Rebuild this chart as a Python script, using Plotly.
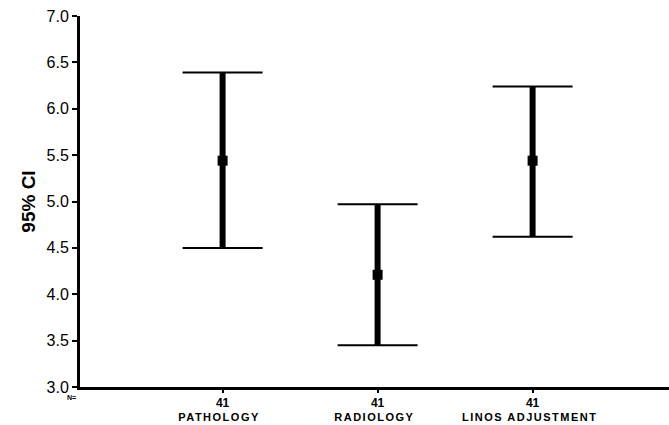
import plotly.graph_objects as go

categories = ["PATHOLOGY", "RADIOLOGY", "LINOS ADJUSTMENT"]
n_values = [41, 41, 41]
means = [5.44, 4.21, 5.44]
upper = [6.39, 4.97, 6.24]
lower = [4.50, 3.45, 4.62]

xs = list(range(len(categories)))

fig = go.Figure()

# thick stems
stem_x, stem_y = [], []
for i in xs:
    stem_x += [i, i, None]
    stem_y += [lower[i], upper[i], None]
fig.add_trace(go.Scatter(x=stem_x, y=stem_y, mode="lines",
                         line=dict(color="black", width=6), hoverinfo="skip",
                         showlegend=False))

# caps + mean markers
fig.add_trace(go.Scatter(
    x=xs, y=means, mode="markers",
    marker=dict(symbol="square", size=10, color="black"),
    error_y=dict(type="data", symmetric=False,
                 array=[u - m for u, m in zip(upper, means)],
                 arrayminus=[m - l for m, l in zip(means, lower)],
                 color="black", thickness=2, width=40),
    showlegend=False))

for i, c in enumerate(categories):
    fig.add_annotation(x=i, xshift=-3, y=0, yref="paper", yshift=-30, text=c,
                       showarrow=False, yanchor="middle",
                       font=dict(family="Liberation Sans", size=11, color="black",
                                 weight="bold"))

fig.add_annotation(x=0, xref="paper", xanchor="right", xshift=-2, y=0, yref="paper",
                   yshift=-10, yanchor="middle", text="N=", showarrow=False,
                   font=dict(family="Liberation Sans", size=7, color="black",
                             weight="bold"))

fig.update_layout(
    width=669, height=425,
    margin=dict(l=80, r=0, t=16, b=38),
    plot_bgcolor="white", paper_bgcolor="white",
    font=dict(family="Liberation Sans", color="black"),
    xaxis=dict(range=[-0.92, 2.88], tickvals=xs, ticktext=[str(n) for n in n_values],
               showgrid=False, zeroline=False, showline=True, linecolor="black",
               linewidth=3, ticks="outside", ticklen=3, tickwidth=2, tickcolor="black",
               tickfont=dict(size=12, weight="bold")),
    yaxis=dict(range=[3, 7], dtick=0.5, tickformat=".1f",
               showgrid=False, zeroline=False, showline=True, linecolor="black",
               linewidth=3, ticks="outside", ticklen=5, tickwidth=2, tickcolor="black",
               tickfont=dict(size=16),
               title=dict(text="<b>95% CI</b>", font=dict(size=19), standoff=6)),
)

post = """
document.body.style.margin='0';
document.querySelectorAll('.annotation-text').forEach(function(e){
  if (e.textContent.length > 3) { e.style.letterSpacing='1.5px'; }
});
"""

fig.write_html("out.html", post_script=post, config={"displayModeBar": False})
